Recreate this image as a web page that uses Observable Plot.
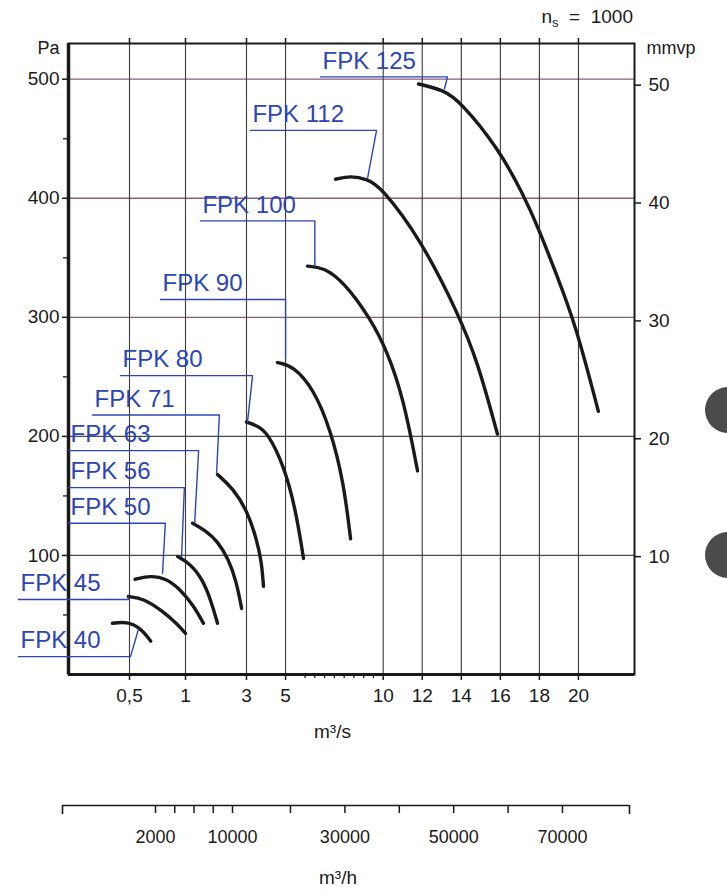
<!DOCTYPE html>
<html><head><meta charset="utf-8">
<script src="https://cdn.jsdelivr.net/npm/d3@7"></script>
<script src="https://cdn.jsdelivr.net/npm/@observablehq/plot@0.6"></script>
<style>
body{margin:0;background:#fff;font-family:"Liberation Sans",Arial,sans-serif;color:#1a1a1a;}
#wrap{position:relative;width:727px;height:893px;overflow:hidden;background:#fff;}
#main{position:absolute;left:0;top:0;}
#lower{position:absolute;left:0;top:760px;}
#ns{position:absolute;right:94px;top:7px;font-size:19px;line-height:1;white-space:pre;}
#ns sub{font-size:13px;vertical-align:-4px;line-height:0;}
.hole{position:absolute;width:46px;height:46px;border-radius:50%;background:#4b4b4b;}
</style></head>
<body><div id="wrap"><div id="main"></div><div id="lower"></div>
<div id="ns">n<sub>s</sub>  =  1000</div>
<div class="hole" style="left:705px;top:387px"></div>
<div class="hole" style="left:705px;top:532px"></div>
</div>
<script>
// ---- data ----
const fans = ["FPK 40","FPK 45","FPK 50","FPK 56","FPK 63","FPK 71","FPK 80","FPK 90","FPK 100","FPK 112","FPK 125"];
// flow m3/s and pressure Pa along each fan curve
const q40 = [0.36, 0.48, 0.60, 0.69];
const p40 = [43, 44.5, 39, 28];
const q45 = [0.49, 0.625, 0.80, 0.93, 1.0];
const p45 = [65.5, 64, 53, 42, 34.5];
const q50 = [0.55, 0.69, 0.82, 0.955, 1.26, 1.59];
const p50 = [80, 83, 81, 71.5, 58, 43];
const q56 = [0.93, 1.16, 1.56, 1.85, 2.05];
const p56 = [99, 93, 80, 61, 43];
const q63 = [1.23, 1.66, 2.05, 2.41, 2.67, 2.84];
const p63 = [127, 121, 112, 97, 78, 55.5];
const q71 = [2.05, 2.57, 3.05, 3.51, 3.77, 3.87];
const p71 = [168, 156, 137, 114, 95, 74];
const q80 = [3.0, 3.55, 4.08, 4.89, 5.51, 5.92];
const p80 = [212, 209, 203, 176.5, 139.5, 97.5];
const q90 = [4.59, 5.41, 6.43, 7.30, 7.97, 8.33];
const p90 = [262, 259, 240, 206, 162, 114];
const q100 = [6.12, 6.94, 7.97, 9.35, 10.22, 11.04, 11.76];
const p100 = [343, 342, 330, 299, 271, 232, 171];
const q112 = [7.56, 8.33, 9.20, 9.86, 11.91, 13.86, 14.83, 15.85];
const p112 = [416, 419, 416, 410, 366, 302.5, 263, 202];
const q125 = [11.81, 13.09, 13.96, 15.90, 17.18, 17.95, 18.92, 19.85, 21.02];
const p125 = [496, 491, 481, 442, 403, 375, 334, 294, 221];

// label leaders: start of underline, knee, end on curve
const labelQ = [-0.41, -0.41, 0, 0, 0, 0.197, 0.426, 0.777, 1.49, 3.2, 6.79];
const labelP = [15, 63, 127, 157, 188, 218, 251, 315, 381, 457, 502];
const kneeQ  = [0.509, 0.49, 0.82, 0.99, 1.43, 2.11, 3.31, 5.0, 6.5, 9.66, 13.29];
const endQ   = [0.58, 0.49, 0.795, 0.965, 1.30, 2.02, 3.05, 5.0, 6.5, 9.2, 13.14];
const endP   = [38, 65, 85, 99, 127, 169, 212, 265, 343, 417, 492];

// axes
const xTicks = [0.5, 1, 3, 5, 10, 12, 14, 16, 18, 20];
const xMinor = [6, 6.5, 7, 7.5, 8, 8.5, 9, 9.5];
const paTicks = [100, 200, 300, 400, 500];
const paMinor = [50, 150, 250, 350, 450];
const mmTicks = [10, 20, 30, 40, 50];
const PA_PER_MM = 9.9;
const m3hTicks = [2000, 4000, 6000, 8000, 10000, 20000, 30000, 40000, 50000, 60000, 70000];
const m3hLabeled = [2000, 10000, 30000, 50000, 70000];

// ---- build tables ----
const curveQ = [q40,q45,q50,q56,q63,q71,q80,q90,q100,q112,q125];
const curveP = [p40,p45,p50,p56,p63,p71,p80,p90,p100,p112,p125];
const rows = fans.flatMap((f,i) => curveQ[i].map((q,j) => ({fan:f, q, p:curveP[i][j]})));
const leaders = fans.flatMap((f,i) => [
  {fan:f, q:labelQ[i], p:labelP[i]},
  {fan:f, q:kneeQ[i], p:labelP[i]},
  {fan:f, q:endQ[i], p:endP[i]}
]);
const labels = fans.map((f,i) => ({fan:f, q:labelQ[i], p:labelP[i]}));

const FONT = "Liberation Sans, Arial, sans-serif";
const BLUE = "#2c45b6";
const INK = "#1a1a1a";

// non-uniform flow scale (expanded low range, linear above 3 m3/s)
const xScale = {type:"linear", domain:[0, 0.5, 1, 3, 22.87], range:[68, 129, 185, 246, 634]};

const main = Plot.plot({
  width: 727, height: 760,
  marginLeft: 68, marginRight: 93, marginTop: 43, marginBottom: 86,
  style: {fontFamily: FONT, color: INK, background: "transparent"},
  x: xScale,
  y: {domain: [0, 530]},
  marks: [
    Plot.ruleY(paTicks, {stroke: d => d >= 300 ? "#8a6077" : "#4a4a4a", strokeWidth: 1.3}),
    Plot.ruleX(xTicks, {stroke: "#3a3a3a", strokeWidth: 1.1}),
    Plot.frame({stroke: INK, strokeWidth: 2}),
    Plot.ruleX([0], {stroke: INK, strokeWidth: 3.5}),
    Plot.ruleY([0], {stroke: INK, strokeWidth: 3}),
    Plot.axisX({anchor: "bottom", ticks: xTicks, tickSize: 6, tickPadding: 8, fontSize: 19,
      tickFormat: d => String(d).replace(".", ","), label: null, strokeWidth: 1.5}),
    Plot.axisX({anchor: "bottom", ticks: xMinor, tickSize: 4, tickFormat: () => "", label: null, strokeWidth: 1.3}),
    Plot.axisX({anchor: "top", ticks: xTicks, tickSize: 6, tickFormat: () => "", label: null, strokeWidth: 1.5}),
    Plot.axisY({anchor: "left", ticks: paTicks, tickSize: 6, tickPadding: 3, fontSize: 19, label: null, strokeWidth: 1.5}),
    Plot.axisY({anchor: "left", ticks: paMinor, tickSize: 5, tickFormat: () => "", label: null, strokeWidth: 1.3}),
    Plot.axisY({anchor: "right", ticks: mmTicks.map(m => m * PA_PER_MM), tickSize: 6, tickPadding: 8, fontSize: 19,
      tickFormat: d => String(Math.round(d / PA_PER_MM)), label: null, strokeWidth: 1.5}),
    Plot.line(rows, {x: "q", y: "p", z: "fan", curve: "basis", stroke: INK, strokeWidth: 3.4, strokeLinecap: "round"}),
    Plot.line(leaders, {x: "q", y: "p", z: "fan", stroke: BLUE, strokeWidth: 1.4}),
    Plot.text(labels, {x: "q", y: "p", text: "fan", textAnchor: "start", lineAnchor: "middle", dx: 2, dy: -16,
      fontSize: 24, fill: BLUE}),
    Plot.text(["Pa"], {frameAnchor: "top-left", textAnchor: "end", lineAnchor: "middle", dx: -9, dy: 5, fontSize: 18}),
    Plot.text(["mmvp"], {frameAnchor: "top-right", textAnchor: "start", lineAnchor: "middle", dx: 12, dy: 5, fontSize: 18}),
    Plot.text(["m³/s"], {frameAnchor: "bottom", lineAnchor: "middle", dx: -19, dy: 57, fontSize: 19})
  ]
});
document.getElementById("main").append(main);

// second, separate flow axis in m3/h
const lower = Plot.plot({
  width: 727, height: 133,
  marginLeft: 0, marginRight: 0, marginTop: 20, marginBottom: 88,
  style: {fontFamily: FONT, color: INK, background: "transparent"},
  x: {type: "linear", domain: [0, 2000, 10000, 20000, 70000, 82400], range: [62, 155, 232, 290, 562, 629]},
  y: {domain: [0, 1], axis: null},
  marks: [
    Plot.ruleY([0], {x1: 0, x2: 82400, stroke: INK, strokeWidth: 1.6}),
    Plot.axisX({anchor: "bottom", ticks: [0, 82400], tickSize: 9, tickFormat: () => "", label: null, strokeWidth: 1.6}),
    Plot.axisX({anchor: "bottom", ticks: m3hTicks, tickSize: 8, tickPadding: 17, fontSize: 18,
      tickFormat: d => m3hLabeled.includes(d) ? String(d) : "", label: null, strokeWidth: 1.5}),
    Plot.text(["m³/h"], {frameAnchor: "bottom", lineAnchor: "middle", dx: -26, dy: 72, fontSize: 19})
  ]
});
document.getElementById("lower").append(lower);
</script>
</body></html>
